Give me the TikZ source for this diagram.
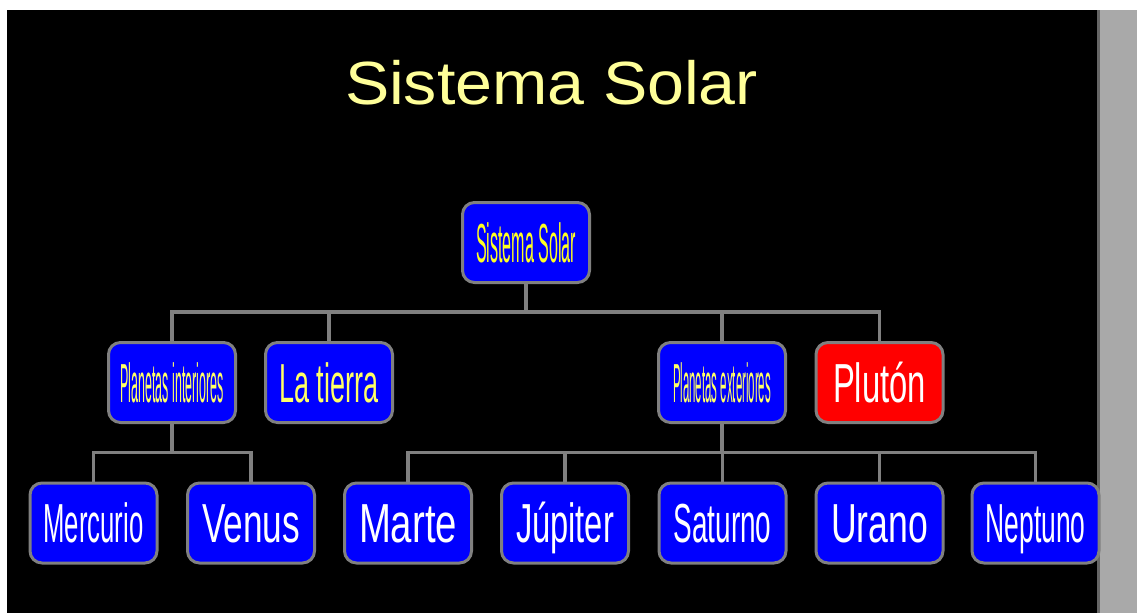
\documentclass[tikz,border=0pt]{standalone}
\usepackage{fontspec}
\setmainfont{Liberation Sans}
\usepackage{graphicx}
\definecolor{titlecol}{HTML}{FFFF99}
\definecolor{ytext}{HTML}{FFFF66}
\definecolor{rootyel}{HTML}{FFFF22}
\definecolor{boxblue}{HTML}{0000FF}
\definecolor{boxred}{HTML}{FF0000}
\definecolor{edgegray}{HTML}{808080}
\definecolor{barcol}{HTML}{A9A9A9}
\pgfdeclarelayer{bg}
\pgfsetlayers{bg,main}
\newcommand{\sqtext}[2][98pt]{\resizebox{#1}{\height}{\fontsize{55}{60}\selectfont #2}}
\tikzset{
  box/.style={draw=edgegray, line width=3pt, fill=boxblue, rounded corners=12pt,
    minimum width=127pt, minimum height=80pt, inner sep=0pt,
    text height=44pt, text depth=4.6pt, align=center},
  redbox/.style={box, fill=boxred},
  conn/.style={draw=edgegray, line width=3.5pt}
}
\begin{document}
\begin{tikzpicture}[x=1pt,y=-1pt]
\useasboundingbox (0,0) rectangle (1137,613);
% title
\node[anchor=base, text=titlecol, inner sep=0pt] (title) at (551.5,104)
  {\resizebox{413pt}{\height}{\fontsize{61}{70}\selectfont Sistema Solar}};
% level 1
\node[box, text=rootyel] (root) at (526,242.5) {\sqtext[100pt]{Sistema Solar}};
% level 2
\node[box, text=ytext] (pi) at (172,382.5) {\sqtext[103pt]{Planetas interiores}};
\node[box, text=ytext] (lt) at (329,382.5) {\sqtext[99pt]{La tierra}};
\node[box, text=ytext] (pe) at (722,382.5) {\sqtext[98pt]{Planetas exteriores}};
\node[redbox, text=white] (pl) at (879.5,382.5) {\sqtext[93pt]{Plutón}};
% level 3
\node[box, text=white] (me) at (93.5,523) {\sqtext[100pt]{Mercurio}};
\node[box, text=white] (ve) at (251,523) {\sqtext[98pt]{Venus}};
\node[box, text=white] (ma) at (408,523) {\sqtext[98pt]{Marte}};
\node[box, text=white] (ju) at (565,523) {\sqtext[98pt]{Júpiter}};
\node[box, text=white] (sa) at (722.5,523) {\sqtext[98pt]{Saturno}};
\node[box, text=white] (ur) at (879.5,523) {\sqtext[97pt]{Urano}};
\node[box, text=white] (ne) at (1035.5,523) {\sqtext[100pt]{Neptuno}};
% junctions
\coordinate (j1) at (526,312);
\coordinate (j2) at (172,452.5);
\coordinate (j3) at (722,452.5);
\begin{pgfonlayer}{bg}
  \fill[white] (0,0) rectangle (1137,613);
  \fill[black] (7,10) rectangle (1099,613);
  \fill[barcol] (1099,10) rectangle (1137,613);
  \fill[black!60] (1097,10) rectangle (1100,613);
  \draw[conn] (root.south) -- (j1);
  \draw[conn] (pi.north) |- (j1);
  \draw[conn] (lt.north) |- (j1);
  \draw[conn] (pe.north) |- (j1);
  \draw[conn] (pl.north) |- (j1);
  \draw[conn] (pi.south) -- (j2);
  \draw[conn] (me.north) |- (j2);
  \draw[conn] (ve.north) |- (j2);
  \draw[conn] (pe.south) -- (j3);
  \draw[conn] (ma.north) |- (j3);
  \draw[conn] (ju.north) |- (j3);
  \draw[conn] (sa.north) |- (j3);
  \draw[conn] (ur.north) |- (j3);
  \draw[conn] (ne.north) |- (j3);
\end{pgfonlayer}
\end{tikzpicture}
\end{document}
